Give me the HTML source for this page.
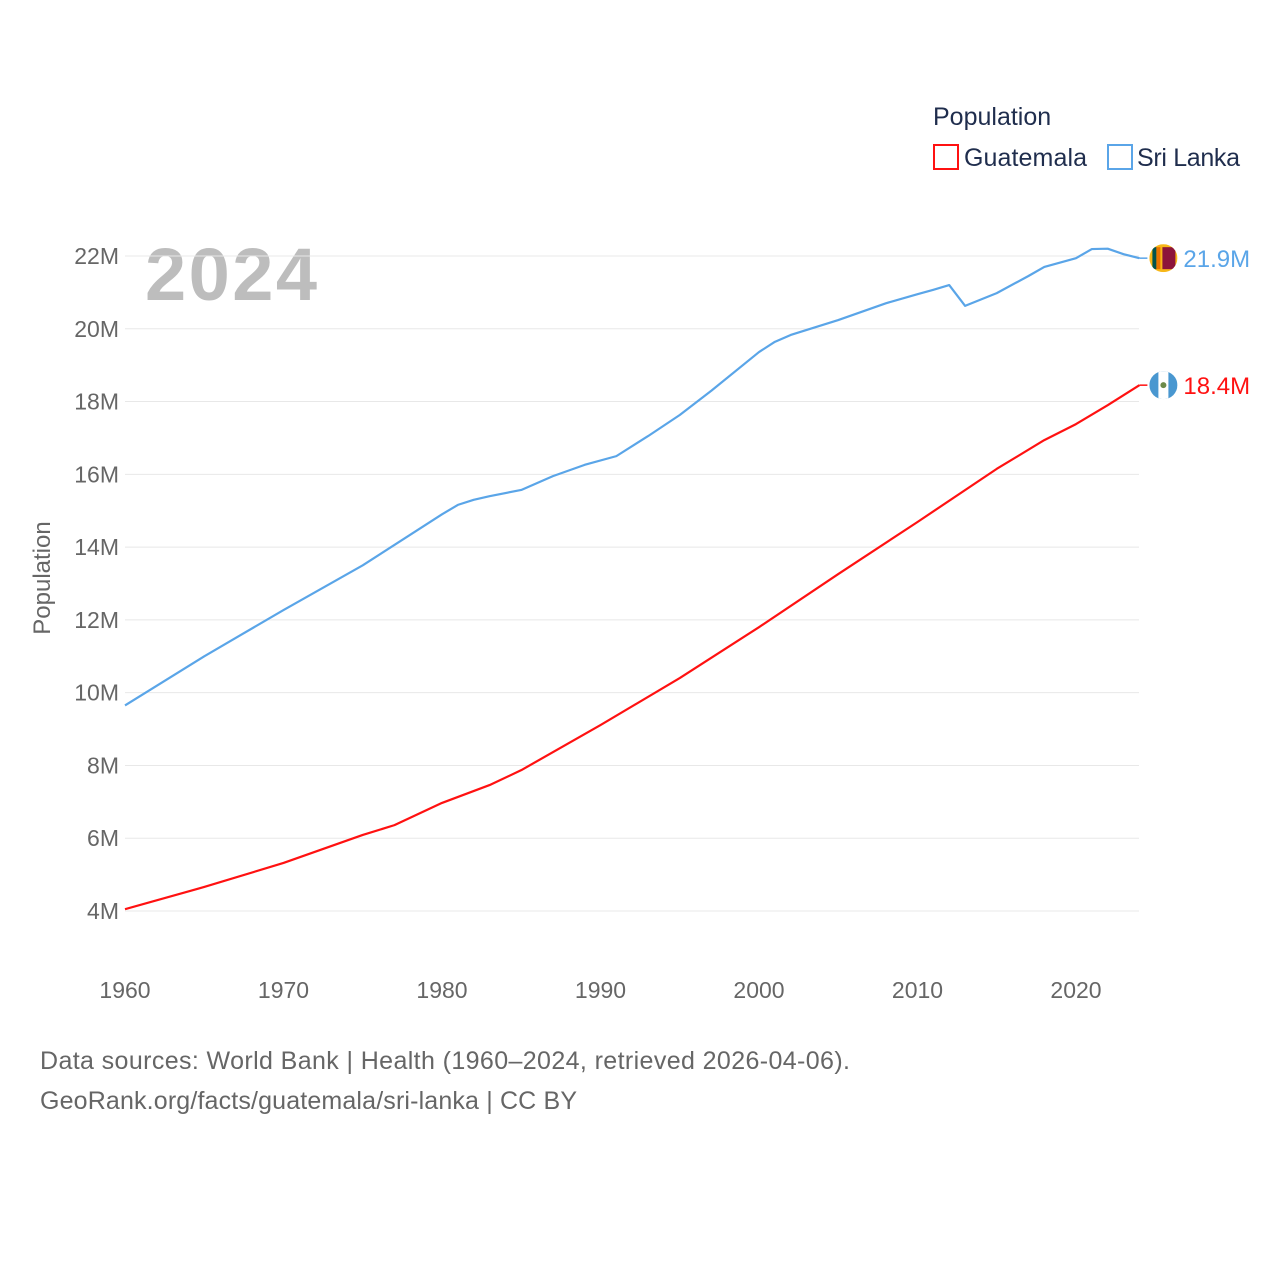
<!DOCTYPE html>
<html><head><meta charset="utf-8"><style>
body{margin:0;background:#fff;}
svg{display:block;font-family:"Liberation Sans",sans-serif;}
</style></head><body>
<svg id="chart" width="1280" height="1280">
<defs><clipPath id="lkclip"><circle cx="1163" cy="258" r="14"/></clipPath><clipPath id="gtclip"><circle cx="1163" cy="385" r="14"/></clipPath></defs>
<text x="933" y="125" font-size="25" fill="#1f2d4d">Population</text>
<g><rect x="934" y="145" width="24" height="24" fill="none" stroke="#ff1111" stroke-width="2"/><text x="964" y="166" font-size="25" fill="#1f2d4d" textLength="123">Guatemala</text></g>
<g><rect x="1108" y="145" width="24" height="24" fill="none" stroke="#5aa5e8" stroke-width="2"/><text x="1137" y="166" font-size="25" fill="#1f2d4d" textLength="103">Sri Lanka</text></g>
<text x="145" y="300" font-size="74" font-weight="bold" fill="#bdbdbd" textLength="172">2024</text>
<text transform="translate(50,578) rotate(-90)" text-anchor="middle" font-size="24" fill="#666">Population</text>
<g id="grid"></g><g id="series"></g>
<text x="40" y="1069" font-size="25" fill="#666" textLength="810">Data sources: World Bank | Health (1960–2024, retrieved 2026-04-06).</text>
<text x="40" y="1109" font-size="25" fill="#666" textLength="537">GeoRank.org/facts/guatemala/sri-lanka | CC BY</text>
</svg>
<script>
const yTicks=[4,6,8,10,12,14,16,18,20,22];
const xTicks=[1960,1970,1980,1990,2000,2010,2020];
const lkYears=[1960,1965,1970,1975,1980,1981,1982,1983,1985,1987,1989,1991,1993,1995,1997,2000,2001,2002,2005,2008,2010,2011,2012,2013,2015,2017,2018,2020,2021,2022,2023,2024];
const lkValues=[9.65,11.0,12.27,13.5,14.9,15.16,15.3,15.4,15.57,15.95,16.26,16.5,17.05,17.63,18.3,19.36,19.64,19.83,20.24,20.7,20.95,21.07,21.2,20.63,20.98,21.45,21.7,21.94,22.19,22.2,22.05,21.94];
const gtYears=[1960,1965,1970,1975,1977,1980,1983,1985,1990,1995,2000,2005,2010,2015,2018,2020,2022,2024];
const gtValues=[4.05,4.66,5.32,6.09,6.36,6.97,7.46,7.87,9.11,10.4,11.8,13.26,14.69,16.15,16.94,17.38,17.9,18.45];
const X=y=>125+(y-1960)*15.85;
const Y=v=>911-(v-4)*36.39;
const NS='http://www.w3.org/2000/svg';
function mk(t,a,p){const e=document.createElementNS(NS,t);for(const k in a)e.setAttribute(k,a[k]);p.appendChild(e);return e;}
const grid=document.getElementById('grid'),ser=document.getElementById('series');
yTicks.forEach(v=>{
 const l=mk('line',{x1:125,x2:1139,y1:Y(v),y2:Y(v),stroke:'#e8e8e8','stroke-width':1},grid);
 
 
 const t=mk('text',{x:119,y:Y(v)+8,'text-anchor':'end','font-size':23,fill:'#666'},grid);t.textContent=v+'M';
 
 
});
xTicks.forEach(y=>{
 const t=mk('text',{x:X(y),y:998,'text-anchor':'middle','font-size':23,fill:'#666'},grid);t.textContent=y;
 
 
});
function series(years,vals,color,name,flag){
 const p=mk('polyline',{points:years.map((y,i)=>X(y)+','+Y(vals[i])).join(' '),fill:'none',stroke:color,'stroke-width':2.2,'stroke-linejoin':'round'},ser);
 
 
 const lx=X(years[years.length-1]),ly=Y(vals[vals.length-1]);
 mk('line',{x1:lx,x2:lx+8,y1:ly,y2:ly,stroke:color,'stroke-width':1.5},ser);
 const g=mk('g',{transform:'translate('+(lx+24-1163)+','+(ly-(flag==='lk'?258:385))+')'},ser);
 
 
 const cy=flag==='lk'?258:385;
 const c=mk('g',{'clip-path':'url(#'+flag+'clip)'},g);
 if(flag==='lk'){
  mk('rect',{x:1149,y:cy-14,width:28,height:28,fill:'#f7b718'},c);
  mk('rect',{x:1152,y:cy-11,width:4,height:22,fill:'#00534e'},c);
  mk('rect',{x:1156,y:cy-11,width:4,height:22,fill:'#eb7400'},c);
  mk('rect',{x:1162,y:cy-11,width:13,height:22,fill:'#8d153a'},c);
 }else{
  mk('rect',{x:1149,y:cy-14,width:28,height:28,fill:'#4997d0'},c);
  mk('rect',{x:1158,y:cy-14,width:10,height:28,fill:'#fff'},c);
  mk('circle',{cx:1163,cy:cy,r:3,fill:'#6c8a4a'},c);
 }
 const t=mk('text',{x:lx+44,y:ly+9,'font-size':24,fill:color},ser);
 t.textContent=vals[vals.length-1].toFixed(1)+'M';
 
 
}
series(lkYears,lkValues,'#5aa5e8','sri-lanka','lk');
series(gtYears,gtValues,'#ff1111','guatemala','gt');
</script>
</body></html>
